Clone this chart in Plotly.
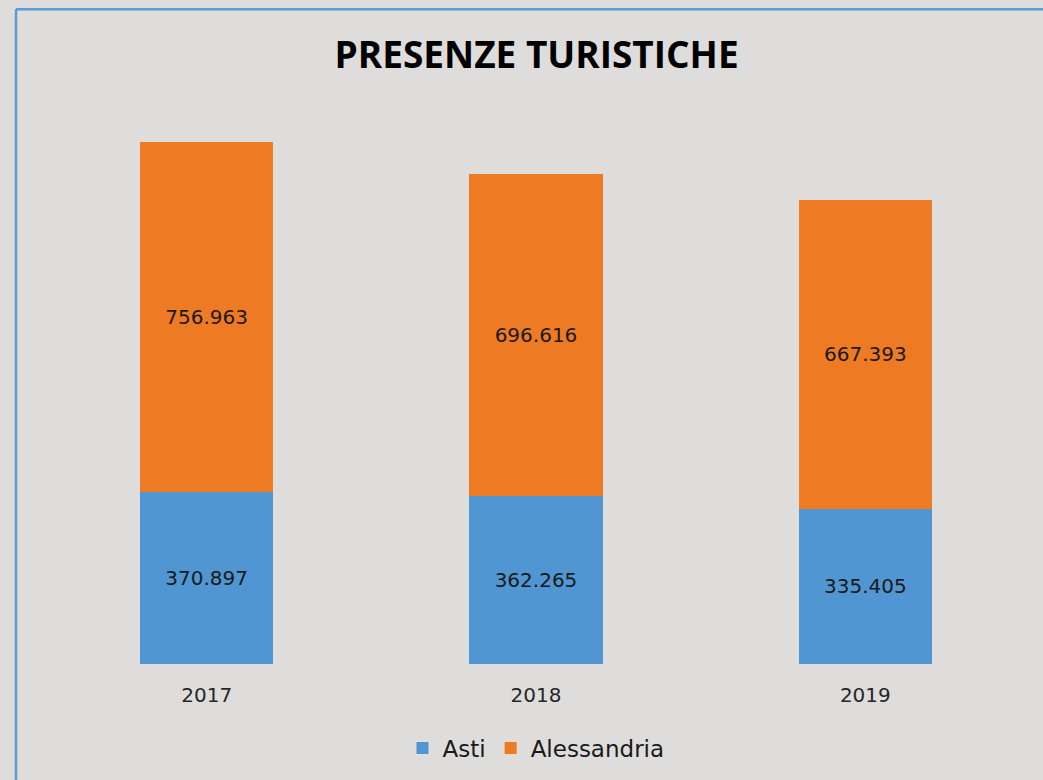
import plotly.graph_objects as go

years = ["2017", "2018", "2019"]
asti = [370897, 362265, 335405]
alessandria = [756963, 696616, 667393]

blue = "#4F96D2"
orange = "#EE7B23"
bg = "#DEDDDB"
font_family = "'DejaVu Sans', sans-serif"

fig = go.Figure()
fig.add_trace(go.Bar(
    name="Asti", x=years, y=asti, marker_color=blue, marker_line_width=0,
    texttemplate="%{y:,.0f}", textposition="inside",
    insidetextanchor="middle", textangle=0,
    textfont=dict(size=20, color="#1a1a1a", family=font_family),
))
fig.add_trace(go.Bar(
    name="Alessandria", x=years, y=alessandria, marker_color=orange, marker_line_width=0,
    texttemplate="%{y:,.0f}", textposition="inside",
    insidetextanchor="middle", textangle=0,
    textfont=dict(size=20, color="#1a1a1a", family=font_family),
))

fig.update_layout(
    width=1043, height=780,
    barmode="stack", bargap=0.596,
    separators=",.",
    paper_bgcolor=bg, plot_bgcolor=bg,
    margin=dict(l=42, r=13, t=100, b=115),
    title=dict(text="<b>PRESENZE TURISTICHE</b>", x=0.5145, xanchor="center",
               y=0.929, yanchor="middle",
               font=dict(size=37, color="#000000", family="'Open Sans', sans-serif")),
    xaxis=dict(showgrid=False, showline=False, zeroline=False,
               ticks="outside", ticklen=13, tickcolor="rgba(0,0,0,0)",
               tickfont=dict(size=20, color="#262626", family=font_family)),
    yaxis=dict(range=[0, 1218400], visible=False, showgrid=False),
    legend=dict(orientation="h", x=0.5, xanchor="center", y=-0.147, yanchor="middle",
                traceorder="normal",
                font=dict(size=23, color="#1a1a1a", family=font_family),
                bgcolor="rgba(0,0,0,0)"),
    showlegend=True,
)

# border lines of the chart frame (left and top)
fig.add_shape(type="line", xref="paper", yref="paper", x0=-0.0263, x1=1.05,
              y0=1.161, y1=1.161, line=dict(color="#5B9BD5", width=2.5))
fig.add_shape(type="line", xref="paper", yref="paper", x0=-0.0263, x1=-0.0263,
              y0=1.161, y1=-0.25, line=dict(color="#5B9BD5", width=2.5))

fig.write_html("out.html", config={"displayModeBar": False},
               post_script="document.body.style.margin='0';")
